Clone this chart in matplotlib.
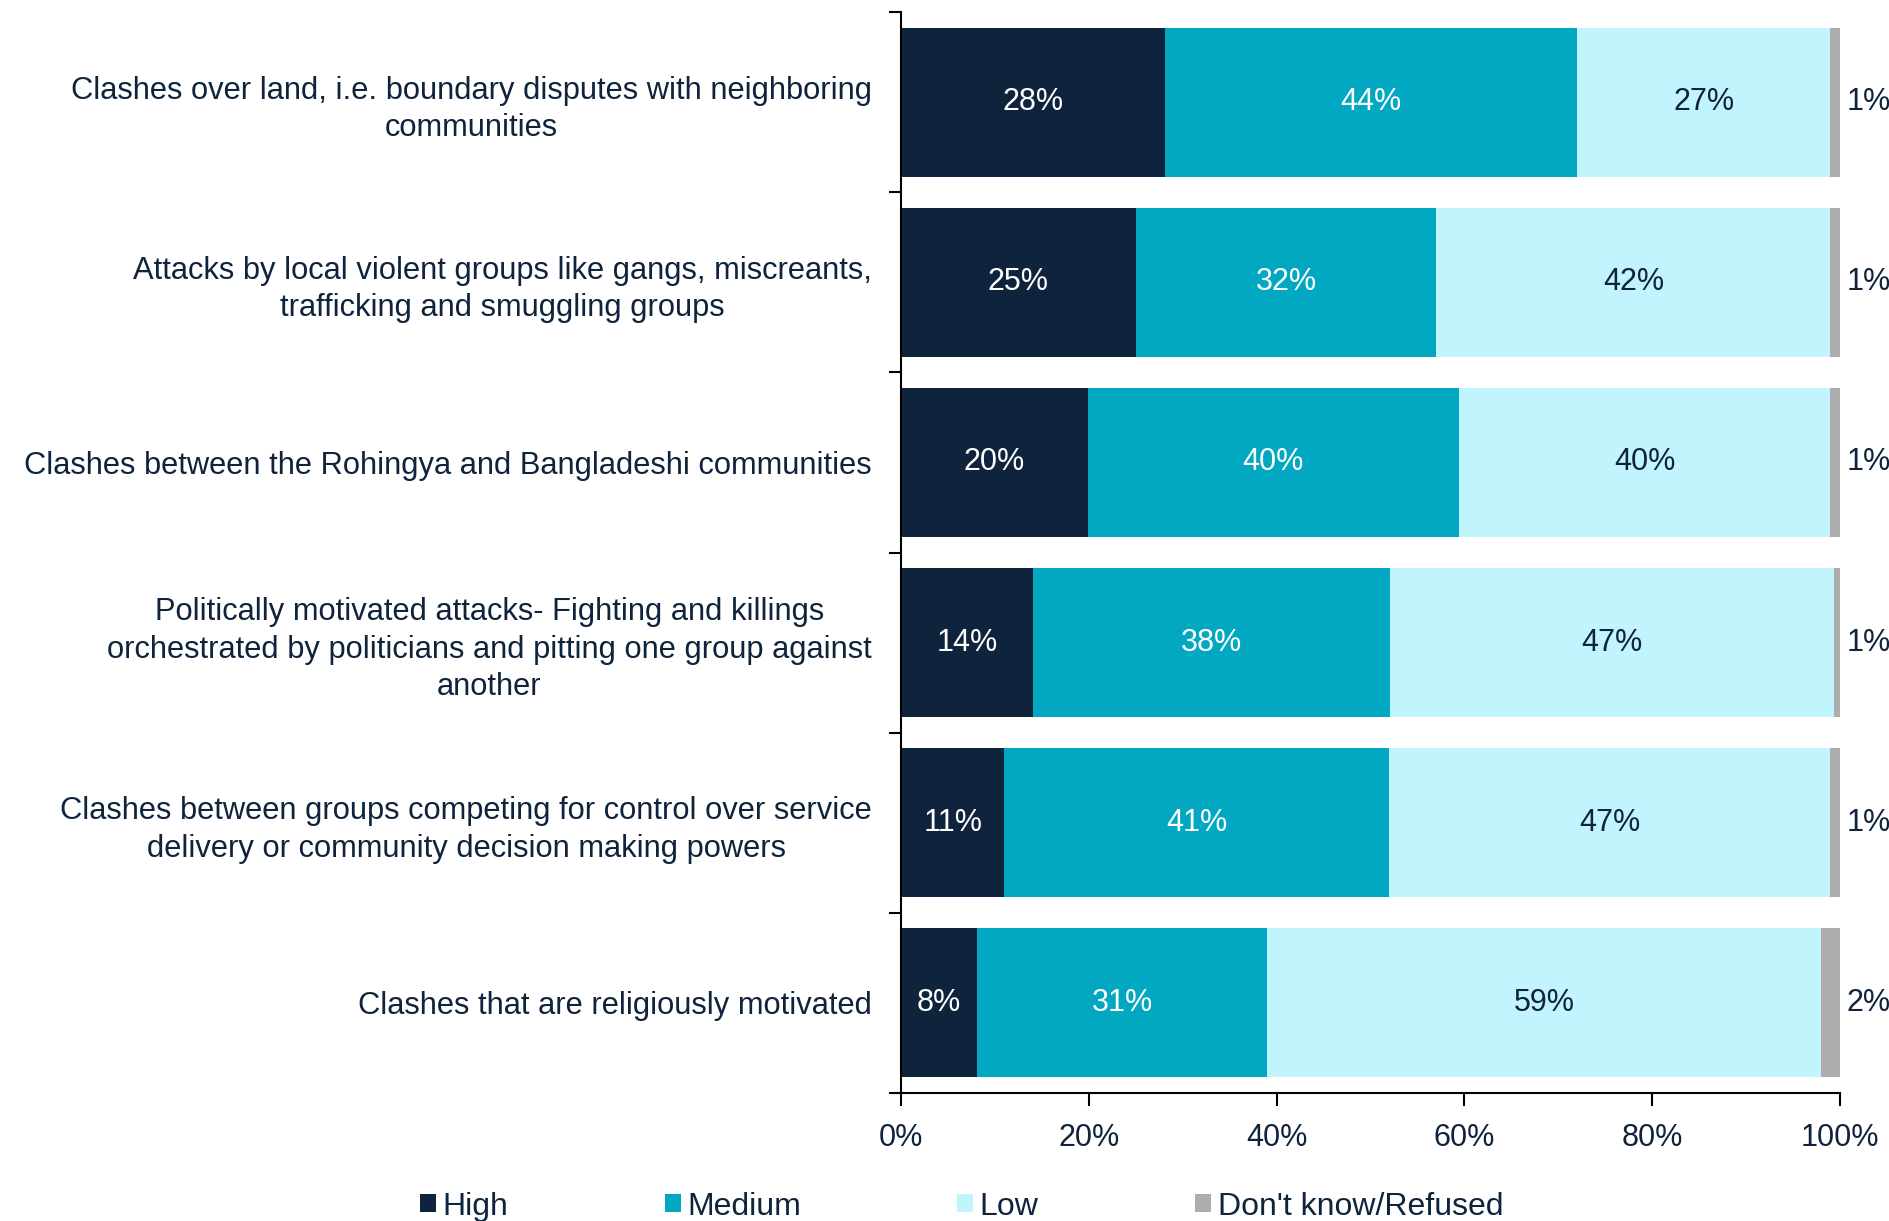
import numpy as np
import matplotlib
matplotlib.use('Agg')
import matplotlib.pyplot as plt
from matplotlib.ticker import FixedLocator, PercentFormatter

plt.rcParams['font.family'] = ['Liberation Sans', 'DejaVu Sans']

categories = [
    'Clashes over land, i.e. boundary disputes with neighboring\ncommunities',
    'Attacks by local violent groups like gangs, miscreants,\ntrafficking and smuggling groups',
    'Clashes between the Rohingya and Bangladeshi communities',
    'Politically motivated attacks- Fighting and killings\norchestrated by politicians and pitting one group against\nanother',
    'Clashes between groups competing for control over service\ndelivery or community decision making powers',
    'Clashes that are religiously motivated',
]
high = [28.1, 25.0, 19.9, 14.1, 11.0, 8.1]
medium = [43.9, 32.0, 39.5, 38.0, 41.0, 30.9]
low = [27.0, 42.0, 39.6, 47.3, 47.0, 59.0]
dont_know = [1.0, 1.0, 1.0, 0.6, 1.0, 2.0]

series = ['High', 'Medium', 'Low', "Don't know/Refused"]
colors = ['#0f233c', '#02a8c2', '#c1f4fc', '#adadad']
label_colors = ['white', 'white', '#0f233c', '#0f233c']
navy = '#0f233c'

fig = plt.figure(figsize=(18.89, 12.21), dpi=100)
ax = fig.add_axes([0.477, 0.105, 0.497, 0.885])

y = np.arange(len(categories))[::-1]
left = np.zeros(len(categories))
for name, vals, c, lc in zip(series, [high, medium, low, dont_know], colors, label_colors):
    vals = np.array(vals)
    ax.barh(y, vals, left=left, height=0.83, color=c, label=name)
    for yi, l, v in zip(y, left, vals):
        txt = f'{round(v):.0f}%'
        if name == "Don't know/Refused":
            ax.text(l + v + 0.7, yi, txt, ha='left', va='center', fontsize=22, color=lc)
        else:
            ax.text(l + v / 2, yi, txt, ha='center', va='center', fontsize=22, color=lc)
    left += vals

ax.set_xlim(0, 100)
ax.set_ylim(-0.5, 5.5)
ax.xaxis.set_major_locator(FixedLocator([0, 20, 40, 60, 80, 100]))
ax.xaxis.set_major_formatter(PercentFormatter(decimals=0))
ax.set_yticks(y)
ax.set_yticklabels(categories, multialignment='center', linespacing=1.32)
ax.yaxis.set_minor_locator(FixedLocator(np.arange(-0.5, 6, 1)))
ax.tick_params(axis='y', which='major', length=0, pad=21, labelsize=22.2, labelcolor=navy)
ax.tick_params(axis='y', which='minor', length=9, width=1.5, color='black')
ax.tick_params(axis='x', which='major', length=9, width=1.5, pad=13, labelsize=22,
               labelcolor=navy)
for s in ['top', 'right']:
    ax.spines[s].set_visible(False)
for s in ['left', 'bottom']:
    ax.spines[s].set_linewidth(1.5)

fig.legend(loc='lower center', bbox_to_anchor=(0.509, -0.024), ncol=4, frameon=False,
           fontsize=23, handlelength=0.5, handleheight=0.5, handletextpad=0.2,
           columnspacing=4.9, labelcolor=navy)

fig.savefig('out.png')
